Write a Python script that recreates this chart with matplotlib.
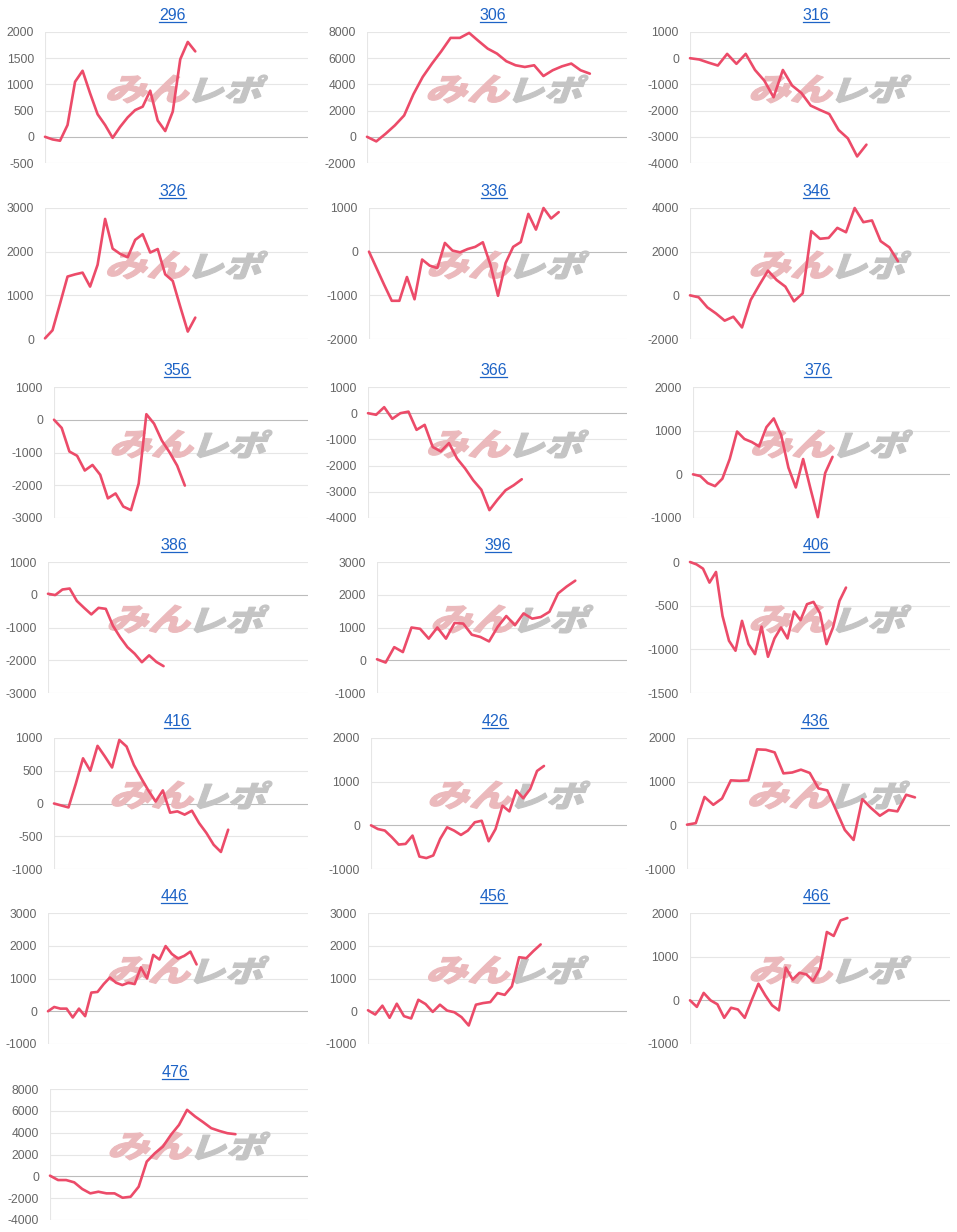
import matplotlib
matplotlib.use("Agg")
import matplotlib.pyplot as plt
from matplotlib.font_manager import FontProperties
from matplotlib.textpath import TextPath
from matplotlib.patches import PathPatch
from matplotlib.lines import Line2D
from matplotlib.transforms import Affine2D, IdentityTransform

# ---------------- data ----------------
titles = ["296", "306", "316", "326", "336", "346", "356", "366", "376", "386",
          "396", "406", "416", "426", "436", "446", "456", "466", "476"]

v296 = [0, -50, -75, 225, 1050, 1260, 830, 430, 225, -20, 190, 370, 510, 575, 880, 310, 110, 480, 1480, 1810, 1630]
v306 = [0, -350, 230, 870, 1630, 3250, 4570, 5590, 6530, 7550, 7550, 7930, 7320, 6730, 6350, 5770, 5460, 5330,
        5460, 4640, 5080, 5380, 5590, 5080, 4820]
v316 = [0, -50, -170, -280, 165, -215, 165, -450, -855, -1490, -450, -1045, -1330, -1810, -1975, -2130, -2740,
        -3060, -3750, -3300]
v326 = [15, 200, 810, 1430, 1480, 1520, 1200, 1700, 2750, 2070, 1950, 1870, 2270, 2400, 1980, 2060, 1480, 1330,
        740, 170, 490]
v336 = [0, -380, -760, -1125, -1125, -580, -1090, -180, -320, -375, 200, 25, -15, 60, 110, 215, -300, -1010,
        -260, 110, 220, 865, 505, 1000, 760, 905]
v346 = [0, -90, -550, -830, -1160, -980, -1470, -215, 475, 1130, 700, 400, -275, 90, 2940, 2590, 2630, 3090,
        2890, 4000, 3350, 3430, 2480, 2200, 1560]
v356 = [0, -250, -970, -1100, -1550, -1380, -1680, -2400, -2250, -2650, -2760, -1950, 170, -120, -630, -990,
        -1400, -2010]
v366 = [0, -60, 230, -215, 0, 60, -635, -445, -1290, -1460, -1140, -1730, -2110, -2560, -2920, -3700, -3300,
        -2940, -2750, -2520]
v376 = [0, -40, -200, -270, -100, 350, 980, 810, 740, 640, 1080, 1280, 900, 150, -300, 350, -330, -980, 30, 400]
v386 = [30, -10, 160, 190, -190, -400, -600, -400, -430, -950, -1300, -1600, -1800, -2060, -1850, -2050, -2180]
v396 = [30, -70, 400, 250, 1000, 960, 660, 1000, 660, 1140, 1120, 780, 710, 575, 1020, 1350, 1070, 1430, 1270,
        1320, 1480, 2040, 2250, 2430]
v406 = [0, -27, -76, -236, -114, -617, -902, -1016, -674, -940, -1055, -740, -1085, -875, -750, -875, -567, -666,
        -483, -457, -586, -940, -750, -445, -293]
v416 = [0, -30, -60, 300, 690, 500, 880, 720, 550, 970, 870, 590, 390, 200, 30, 200, -140, -120, -170, -110,
        -300, -450, -630, -740, -400]
v426 = [0, -85, -120, -270, -440, -425, -235, -715, -750, -690, -310, -45, -120, -220, -120, 70, 105, -365, -85,
        450, 320, 800, 620, 830, 1245, 1360]
v436 = [15, 50, 650, 470, 615, 1030, 1020, 1030, 1740, 1730, 1670, 1190, 1210, 1275, 1200, 845, 800, 350, -105,
        -335, 600, 395, 220, 350, 320, 700, 640]
v446 = [0, 130, 80, 80, -190, 80, -150, 570, 590, 830, 1030, 870, 800, 870, 830, 1340, 1000, 1720, 1580, 1990,
        1750, 1610, 1690, 1820, 1430]
v456 = [30, -100, 170, -200, 230, -150, -220, 350, 220, -20, 200, 20, -30, -180, -435, 200, 250, 280, 555, 500,
        760, 1650, 1620, 1840, 2040]
v466 = [0, -150, 170, 0, -90, -400, -170, -210, -400, 0, 380, 115, -115, -230, 750, 475, 630, 595, 445, 730,
        1565, 1475, 1830, 1885]
v476 = [60, -340, -340, -550, -1160, -1560, -1410, -1560, -1560, -1960, -1870, -950, 1350, 2110, 2720, 3800,
        4710, 6090, 5480, 4960, 4410, 4160, 3950, 3860]

series = [v296, v306, v316, v326, v336, v346, v356, v366, v376, v386,
          v396, v406, v416, v426, v436, v446, v456, v466, v476]

# number of x-axis category slots (last index) per chart
x_slots = [35, 28, 28, 35, 34, 30, 33, 32, 35, 36, 29, 40, 35, 37, 30, 42, 36, 38, 32]

# y-axis ticks: (min, max, step)
y_ticks = [(-500, 2000, 500), (-2000, 8000, 2000), (-4000, 1000, 1000),
           (0, 3000, 1000), (-2000, 1000, 1000), (-2000, 4000, 2000),
           (-3000, 1000, 1000), (-4000, 1000, 1000), (-1000, 2000, 1000),
           (-3000, 1000, 1000), (-1000, 3000, 1000), (-1500, 0, 500),
           (-1000, 1000, 500), (-1000, 2000, 1000), (-1000, 2000, 1000),
           (-1000, 3000, 1000), (-1000, 3000, 1000), (-1000, 2000, 1000),
           (-4000, 8000, 2000)]

# ---------------- layout / style ----------------
W, H = 957, 1232
LINE_COLOR = "#ec4b69"
TITLE_COLOR = "#1d63c6"
LABEL_COLOR = "#666666"
GRID_COLOR = "#e6e6e6"
ZERO_COLOR = "#bcbcbc"

col_right = [308, 627, 950]
left_px = [45, 367, 690, 45, 369, 690, 54, 368, 693, 48, 377, 690, 54, 371, 687, 48, 368, 690, 50]
row_top = [32, 208, 387, 562, 738, 913, 1089]
PLOT_H = 131

fig = plt.figure(figsize=(W / 100, H / 100), dpi=100)
fig.patch.set_facecolor("white")

tick_font = FontProperties(family=["Liberation Sans", "DejaVu Sans"], size=8.7)
title_font = FontProperties(family=["Liberation Sans", "DejaVu Sans"], size=11.5)
wm_font = FontProperties(family=["Noto Sans CJK JP"], weight=900)

wm_path1 = TextPath((0, 0), "みん", size=30, prop=wm_font)
wm_path2 = TextPath((0, 0), "レポ", size=30, prop=wm_font)


def fit_path(path, x0, x1, y0, y1, skew=16):
    """Skew a path then fit it into the pixel box (x0..x1, y0..y1) in display coords."""
    p = path.transformed(Affine2D().skew_deg(skew, 0))
    ext = p.get_extents()
    sx = (x1 - x0) / ext.width
    sy = (y1 - y0) / ext.height
    t = Affine2D().translate(-ext.x0, -ext.y0).scale(sx, sy).translate(x0, y0)
    return p.transformed(t)


titles_artists = []
for i, (name, vals) in enumerate(zip(titles, series)):
    r, c = divmod(i, 3)
    left = left_px[i]
    right = col_right[c]
    top = row_top[r]
    bottom = top + PLOT_H
    ax = fig.add_axes([left / W, 1 - bottom / H, (right - left) / W, PLOT_H / H])
    lo, hi, st = y_ticks[i]
    ticks = list(range(lo, hi + 1, st))
    ax.set_xlim(0, x_slots[i])
    ax.set_ylim(lo, hi)
    for s in ax.spines.values():
        s.set_visible(False)
    ax.set_xticks([])
    ax.set_yticks(ticks)
    ax.set_yticklabels([str(t) for t in ticks], fontproperties=tick_font, color=LABEL_COLOR)
    ax.tick_params(axis="y", length=0, pad=8)
    for t in ticks:
        ax.axhline(t, color=ZERO_COLOR if t == 0 else GRID_COLOR, lw=0.8, zorder=0.5)
    ax.axvline(0, color=GRID_COLOR, lw=0.8, zorder=0.5)

    # watermark (みんレポ logo approximation)
    cx = (left + right) / 2 + 11
    cy = top + 57
    yb, yt = H - (cy + 14), H - (cy - 14)
    p1 = fit_path(wm_path1, cx - 80, cx + 2, yb, yt)
    p2 = fit_path(wm_path2, cx + 5, cx + 80, yb, yt)
    for p, col in ((p1, "#ebb9bc"), (p2, "#c4c4c4")):
        patch = PathPatch(p, facecolor=col, edgecolor=col, lw=0.8, transform=IdentityTransform(),
                          zorder=2, clip_on=False)
        ax.add_artist(patch)

    ax.plot(range(len(vals)), vals, color=LINE_COLOR, lw=1.9, zorder=3,
            solid_joinstyle="round", solid_capstyle="round", clip_on=False)

    tx = (left + right) / 2 - 4
    t = fig.text(tx / W, 1 - (top - 12) / H, name, ha="center", va="baseline",
                 fontproperties=title_font, color=TITLE_COLOR)
    titles_artists.append((t, top))

# underline titles (link style)
fig.canvas.draw()
renderer = fig.canvas.get_renderer()
for t, top in titles_artists:
    bb = t.get_window_extent(renderer)
    y = H - (top - 10)
    fig.add_artist(Line2D([bb.x0, bb.x1], [y, y], color=TITLE_COLOR, lw=0.9,
                          transform=IdentityTransform()))

fig.savefig("out.png", dpi=100, facecolor="white")
